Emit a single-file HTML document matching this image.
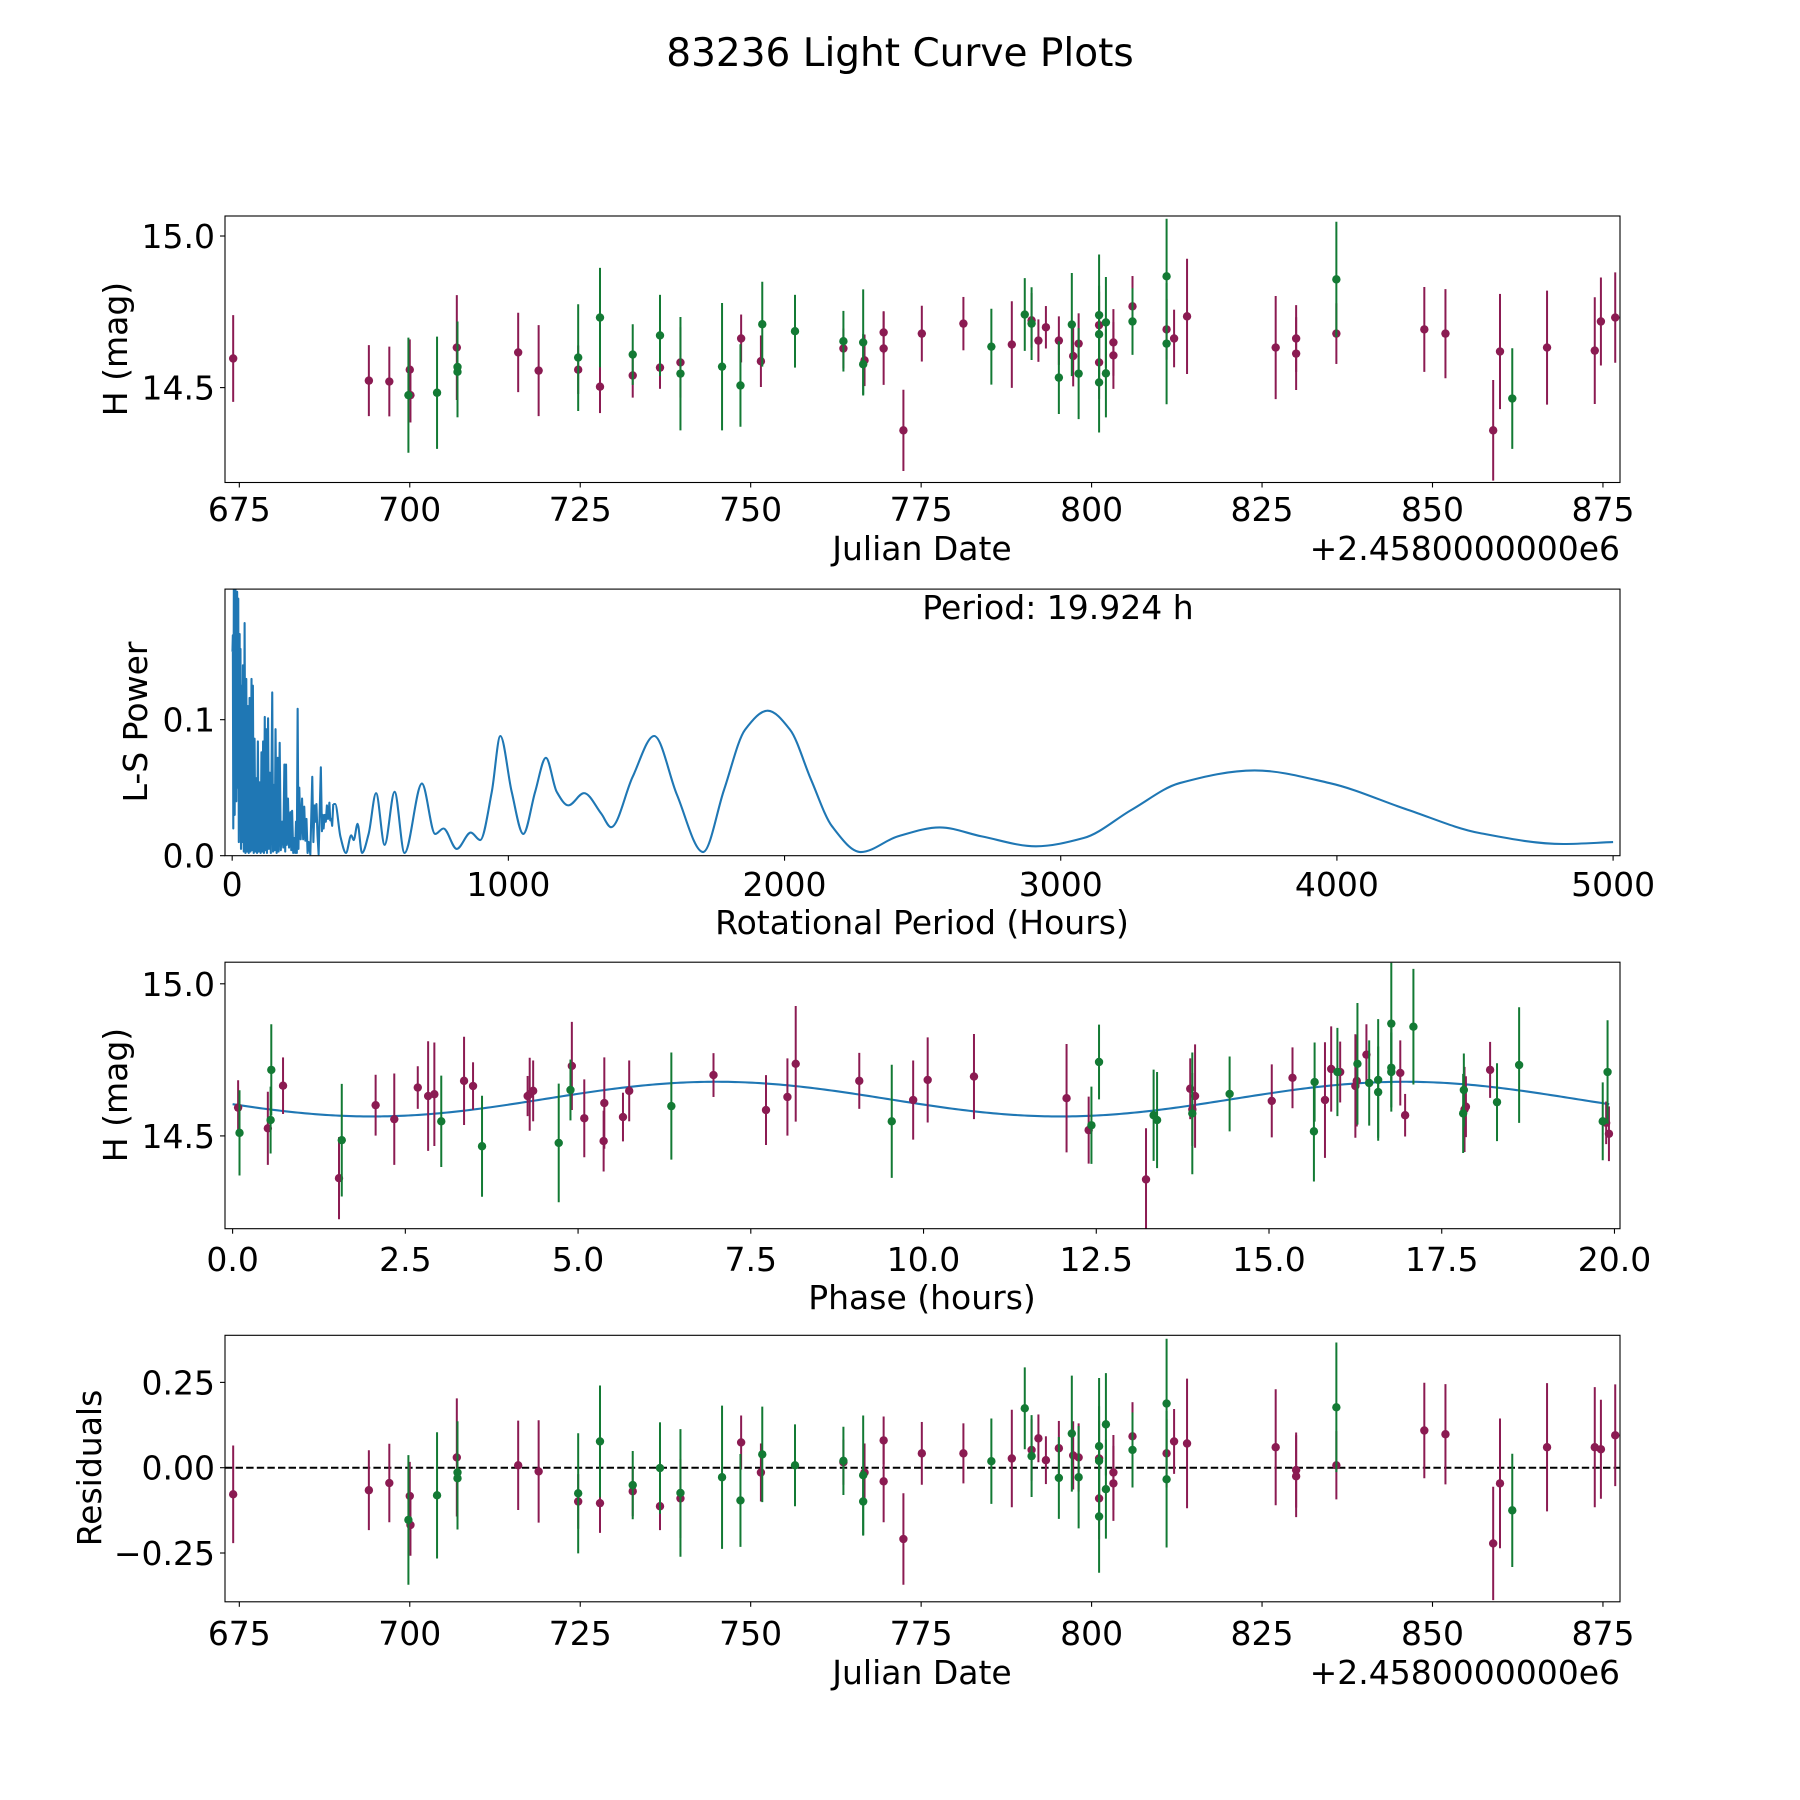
<!DOCTYPE html>
<html><head><meta charset="utf-8"><title>83236 Light Curve Plots</title>
<style>
html,body{margin:0;padding:0;background:#fff;}
svg{display:block;font-family:"DejaVu Sans","Liberation Sans",sans-serif;}
</style></head>
<body>
<svg id="fig" xmlns="http://www.w3.org/2000/svg" width="1800" height="1800" viewBox="0 0 1800 1800">
<rect x="0" y="0" width="1800" height="1800" fill="#fff"/>
<text x="900" y="66" font-size="39" text-anchor="middle">83236 Light Curve Plots</text>
<g id="ax1"></g>
<g id="ax2"></g>
<g id="ax3"></g>
<g id="ax4"></g>
<text x="922" y="560" font-size="33" text-anchor="middle">Julian Date</text>
<text x="1620" y="560" font-size="33" text-anchor="end">+2.4580000000e6</text>
<text transform="translate(127,349) rotate(-90)" font-size="33" text-anchor="middle">H (mag)</text>
<text x="922" y="934" font-size="33" text-anchor="middle">Rotational Period (Hours)</text>
<text transform="translate(147,722) rotate(-90)" font-size="33" text-anchor="middle">L-S Power</text>
<text x="1058" y="619" font-size="33" text-anchor="middle">Period: 19.924 h</text>
<text x="922" y="1309" font-size="33" text-anchor="middle">Phase (hours)</text>
<text transform="translate(127,1095) rotate(-90)" font-size="33" text-anchor="middle">H (mag)</text>
<text x="922" y="1684" font-size="33" text-anchor="middle">Julian Date</text>
<text x="1620" y="1684" font-size="33" text-anchor="end">+2.4580000000e6</text>
<text transform="translate(101,1468) rotate(-90)" font-size="33" text-anchor="middle">Residuals</text>
</svg>
<script>
// ---------- data ----------
const purpleDates = [674.1,694.0,697.0,700.0,700.1,706.9,715.9,718.9,724.7,727.9,732.7,736.7,739.7,748.6,751.5,763.6,766.7,769.5,769.5,772.4,775.1,781.2,788.3,791.2,792.2,793.3,795.2,797.3,798.1,801.1,801.1,803.2,803.2,806.0,811.0,812.1,814.0,827.0,830.0,830.0,835.9,848.8,851.9,858.9,859.9,866.8,873.8,874.7,876.8];
const purpleMags = [14.596,14.523,14.520,14.559,14.475,14.632,14.616,14.556,14.559,14.503,14.540,14.566,14.583,14.662,14.587,14.629,14.590,14.682,14.629,14.359,14.678,14.711,14.642,14.722,14.655,14.699,14.655,14.604,14.645,14.706,14.583,14.649,14.606,14.768,14.692,14.662,14.735,14.632,14.662,14.612,14.678,14.692,14.678,14.359,14.619,14.632,14.622,14.718,14.731];
const purpleErrs = [0.143,0.117,0.115,0.10,0.09,0.173,0.131,0.15,0.08,0.087,0.073,0.07,0.116,0.079,0.085,0.066,0.085,0.07,0.12,0.134,0.092,0.088,0.143,0.09,0.07,0.07,0.08,0.1,0.1,0.11,0.12,0.11,0.11,0.1,0.1,0.095,0.19,0.17,0.11,0.12,0.1,0.14,0.147,0.166,0.19,0.188,0.176,0.145,0.149];
const purpleResid = [-0.078,-0.066,-0.045,-0.083,-0.168,0.030,0.007,-0.011,-0.099,-0.104,-0.069,-0.113,-0.090,0.074,-0.014,0.016,-0.014,0.080,-0.040,-0.209,0.042,0.042,0.027,0.052,0.086,0.022,0.057,0.036,0.030,0.027,-0.090,-0.014,-0.046,0.092,0.042,0.077,0.071,0.060,-0.007,-0.025,0.007,0.109,0.098,-0.222,-0.046,0.060,0.060,0.054,0.095];

const greenDates = [699.8,704.0,707.0,707.0,724.7,727.9,732.7,736.7,739.7,745.8,748.5,751.7,756.5,763.6,766.5,766.5,785.3,790.2,791.2,795.2,797.1,798.1,801.1,801.1,801.1,802.1,802.1,806.0,811.0,811.0,835.9,861.7];
const greenMags = [14.475,14.483,14.568,14.552,14.599,14.731,14.609,14.672,14.546,14.569,14.507,14.709,14.686,14.653,14.649,14.577,14.635,14.741,14.711,14.533,14.708,14.546,14.739,14.676,14.517,14.715,14.547,14.718,14.867,14.645,14.857,14.464];
const greenErrs = [0.19,0.185,0.15,0.15,0.176,0.164,0.1,0.134,0.187,0.21,0.136,0.14,0.12,0.1,0.175,0.1,0.125,0.12,0.12,0.12,0.17,0.15,0.2,0.16,0.165,0.15,0.145,0.11,0.19,0.2,0.19,0.166];
const greenResid = [-0.153,-0.081,-0.014,-0.031,-0.075,0.077,-0.051,-0.001,-0.074,-0.028,-0.096,0.039,0.007,0.020,-0.022,-0.099,0.019,0.174,0.034,-0.030,0.100,-0.028,0.063,0.020,-0.143,0.127,-0.063,0.052,0.188,-0.034,0.177,-0.125];

const purplePhase = [0.08,0.51,0.73,1.54,2.07,2.34,2.68,2.83,2.92,3.35,3.48,4.27,4.30,4.35,4.91,5.09,5.37,5.38,5.65,5.74,6.96,7.72,8.03,8.15,9.07,9.85,10.06,10.73,12.07,12.39,13.22,13.86,13.89,13.93,15.04,15.34,15.81,15.90,16.03,16.25,16.27,16.41,16.90,16.97,17.83,17.85,18.20,19.88,19.92];
const purplePhaseMags = [14.593,14.525,14.665,14.361,14.601,14.555,14.659,14.631,14.637,14.681,14.664,14.631,14.637,14.648,14.730,14.558,14.483,14.608,14.562,14.648,14.700,14.585,14.628,14.737,14.681,14.618,14.684,14.695,14.624,14.519,14.357,14.655,14.587,14.631,14.615,14.691,14.618,14.720,14.710,14.664,14.681,14.767,14.707,14.568,14.587,14.596,14.717,14.543,14.507];
const purplePhaseErrs = [0.09,0.12,0.093,0.135,0.1,0.15,0.07,0.18,0.17,0.145,0.078,0.066,0.12,0.1,0.145,0.128,0.1,0.15,0.08,0.1,0.072,0.115,0.127,0.19,0.092,0.13,0.14,0.14,0.178,0.11,0.168,0.1,0.12,0.17,0.12,0.1,0.19,0.14,0.1,0.17,0.15,0.1,0.107,0.07,0.14,0.1,0.092,0.07,0.09];
const greenPhase = [0.10,0.55,0.56,1.58,3.02,3.61,4.72,4.89,6.35,9.54,12.43,12.54,13.33,13.38,13.89,14.43,15.65,15.66,15.99,16.28,16.45,16.58,16.58,16.77,16.77,16.77,17.09,17.81,17.82,18.30,18.62,19.83,19.90];
const greenPhaseMags = [14.510,14.552,14.717,14.486,14.548,14.466,14.477,14.651,14.598,14.548,14.535,14.743,14.568,14.552,14.574,14.638,14.515,14.677,14.710,14.737,14.674,14.684,14.644,14.869,14.724,14.710,14.859,14.574,14.651,14.611,14.733,14.548,14.710];
const greenPhaseErrs = [0.14,0.11,0.15,0.185,0.15,0.166,0.195,0.1,0.176,0.186,0.127,0.123,0.15,0.158,0.2,0.123,0.165,0.13,0.145,0.2,0.14,0.2,0.15,0.2,0.13,0.13,0.19,0.13,0.12,0.128,0.19,0.128,0.17];

// model fit: mean, amplitude, period (h), phase offset (rad)
const modelMean = 14.621;
const modelAmp = 0.057;
const modelPeriod = 19.924;
const modelOffset = -2.844;

// Lomb-Scargle periodogram (period in hours, power)
const lsPeriods = [1,2.4,4,6,9,12,15,18,20,22,24,27,28.5,30,32,34,36,39,42,45,48,51,54,57,60,63,66,70,72,75,78,81,84,87,90,93,96,100,103,106,109,112,115,118,120,123,126,130,133,136,140,145,148,151,154,157,161,165,168,172,176,181,185,189,192,195,198,202,206,211,214,217,221,225,228,231,234,237,240,243,248,253,257,261,265,269,273,277,283,290,294,298,301,305,309,313,321,325,328,331,335,339,343,347,352,355,359,362,366,
373,392,412,431,440,454,470,494,521,552,588,624,687,735,765,813,864,898,940,971,1012,1054,1097,1136,1175,1217,1274,1336,1372,1450,1528,1610,1705,1781,1857,1939,2020,2096,2172,2276,2410,2562,2714,2910,3083,3257,3431,3702,3973,4256,4516,4820,5000];
const lsPowers = [0.15,0.162,0.02,0.197,0.03,0.197,0.04,0.194,0.05,0.189,0.01,0.163,0.02,0.152,0.005,0.125,0.01,0.140,0.003,0.171,0.002,0.130,0.003,0.110,0.002,0.116,0.003,0.130,0.004,0.125,0.002,0.086,0.003,0.057,0.002,0.084,0.003,0.054,0.002,0.076,0.003,0.084,0.002,0.102,0.004,0.093,0.002,0.101,0.005,0.061,0.002,0.120,0.003,0.052,0.004,0.093,0.002,0.072,0.003,0.083,0.004,0.025,0.006,0.067,0.003,0.067,0.008,0.042,0.006,0.032,0.004,0.033,0.002,0.013,0.002,0.025,0.002,0.108,0.005,0.050,0.012,0.042,0.012,0.036,0.011,0.027,0.002,0.010,0.001,0.058,0.010,0.037,0.025,0.038,0.015,0.001,0.065,0.018,0.030,0.020,0.030,0.025,0.037,0.027,0.039,0.026,0.027,0.022,0.038,
0.038,0.014,0.002,0.015,0.0115,0.0235,0.002,0.016,0.046,0.008,0.047,0.002,0.053,0.016,0.020,0.005,0.017,0.0115,0.047,0.088,0.047,0.016,0.047,0.072,0.047,0.037,0.046,0.031,0.021,0.058,0.088,0.045,0.0027,0.0485,0.0926,0.1066,0.0926,0.0559,0.0216,0.0027,0.0142,0.0208,0.0142,0.0069,0.013,0.0338,0.0534,0.0627,0.0534,0.0338,0.0167,0.0086,0.010];
const lsSmoothFrom = 366;

// ticks
const jdTicks = [675,700,725,750,775,800,825,850,875];
const magTicks = [14.5,15.0];
const magTickLabels = ["14.5","15.0"];
const lsXTicks = [0,1000,2000,3000,4000,5000];
const lsYTicks = [0.0,0.1];
const lsYTickLabels = ["0.0","0.1"];
const phaseTicks = [0,2.5,5,7.5,10,12.5,15,17.5,20];
const phaseTickLabels = ["0.0","2.5","5.0","7.5","10.0","12.5","15.0","17.5","20.0"];
const residTicks = [-0.25,0,0.25];
const residTickLabels = ["\u22120.25","0.00","0.25"];

// ---------- rendering ----------
const NS = "http://www.w3.org/2000/svg";
const PURPLE = "#8b1b52", GREEN = "#137a34", BLUE = "#1f77b4";
const L = 225, R = 1620;
function mk(tag, attrs, parent){
  const e = document.createElementNS(NS, tag);
  for (const k in attrs) e.setAttribute(k, attrs[k]);
  parent.appendChild(e);
  return e;
}
function linScale(d0,d1,r0,r1){ return v => r0 + (v-d0)/(d1-d0)*(r1-r0); }

function setupAxes(g, id, top, bottom, xd, yd){
  const ax = {g, top, bottom, x: linScale(xd[0],xd[1],L,R), y: linScale(yd[0],yd[1],bottom,top)};
  const defs = mk('defs', {}, g);
  const cp = mk('clipPath', {id: 'clip-'+id}, defs);
  mk('rect', {x:L, y:top, width:R-L, height:bottom-top}, cp);
  ax.plot = mk('g', {'clip-path':'url(#clip-'+id+')'}, g);
  
  
  return ax;
}
function frame(ax){
  const r = mk('rect', {x:L, y:ax.top, width:R-L, height:ax.bottom-ax.top, fill:'none', stroke:'#000', 'stroke-width':1.1}, ax.g);
  
  
}
function xTicks(ax, vals, labels, labelY){
  vals.forEach((v,i)=>{
    const px = ax.x(v);
    const t = mk('line', {x1:px, x2:px, y1:ax.bottom, y2:ax.bottom+5, stroke:'#000', 'stroke-width':1.1}, ax.g);
    
    
    const tx = mk('text', {x:px, y:labelY, 'font-size':33, 'text-anchor':'middle'}, ax.g);
    
    
    tx.textContent = labels ? labels[i] : String(v);
  });
}
function yTicks(ax, vals, labels){
  vals.forEach((v,i)=>{
    const py = ax.y(v);
    const t = mk('line', {x1:L-5, x2:L, y1:py, y2:py, stroke:'#000', 'stroke-width':1.1}, ax.g);
    
    
    const tx = mk('text', {x:L-10, y:py+12, 'font-size':33, 'text-anchor':'end'}, ax.g);
    
    
    tx.textContent = labels[i];
  });
}
function errorPoints(ax, xs, ys, es, color, name){
  const grp = mk('g', {}, ax.plot);
  
  
  xs.forEach((xv,i)=>{
    const px = ax.x(xv), py = ax.y(ys[i]);
    const y1 = ax.y(ys[i]+es[i]), y2 = ax.y(ys[i]-es[i]);
    const ln = mk('line', {x1:px, x2:px, y1:y1, y2:y2, stroke:color, 'stroke-width':2}, grp);
    
    
    const c = mk('circle', {cx:px, cy:py, r:4.2, fill:color}, grp);
    
    
  });
}
// monotone cubic (Fritsch-Carlson) path through pixel points
function monotonePath(pts){
  const n = pts.length;
  const dx = [], sl = [];
  for (let i=0;i<n-1;i++){ dx.push(pts[i+1][0]-pts[i][0]); sl.push((pts[i+1][1]-pts[i][1])/dx[i]); }
  const m = new Array(n);
  m[0] = sl[0]; m[n-1] = sl[n-2];
  for (let i=1;i<n-1;i++){
    if (sl[i-1]*sl[i] <= 0) m[i] = 0;
    else {
      const w1 = 2*dx[i]+dx[i-1], w2 = dx[i]+2*dx[i-1];
      m[i] = (w1+w2)/(w1/sl[i-1]+w2/sl[i]);
    }
  }
  let d = 'M'+pts[0][0].toFixed(2)+','+pts[0][1].toFixed(2);
  for (let i=0;i<n-1;i++){
    const h = dx[i]/3;
    d += 'C'+(pts[i][0]+h).toFixed(2)+','+(pts[i][1]+m[i]*h).toFixed(2)+' '+(pts[i+1][0]-h).toFixed(2)+','+(pts[i+1][1]-m[i+1]*h).toFixed(2)+' '+pts[i+1][0].toFixed(2)+','+pts[i+1][1].toFixed(2);
  }
  return d;
}

// Axes 1: light curve
const a1 = setupAxes(document.getElementById('ax1'), 'light-curve', 216, 482.5, [672.9,877.5], [14.187,15.066]);
errorPoints(a1, purpleDates, purpleMags, purpleErrs, PURPLE, 'series-purple');
errorPoints(a1, greenDates, greenMags, greenErrs, GREEN, 'series-green');
frame(a1);
xTicks(a1, jdTicks, null, 521);
yTicks(a1, magTicks, magTickLabels);

// Axes 2: periodogram
const a2 = setupAxes(document.getElementById('ax2'), 'periodogram', 589.1, 855.7, [-26,5025], [0,0.196]);
{
  const rough = [], smooth = [];
  lsPeriods.forEach((p,i)=>{
    const pt = [a2.x(p), a2.y(lsPowers[i])];
    if (p <= lsSmoothFrom) rough.push(pt);
    if (p >= lsSmoothFrom) smooth.push(pt);
  });
  let d = 'M' + rough.map(p=>p[0].toFixed(2)+','+p[1].toFixed(2)).join('L');
  const p1 = mk('path', {d:d, fill:'none', stroke:BLUE, 'stroke-width':2.1, 'stroke-linejoin':'round'}, a2.plot);
  
  
  const p2 = mk('path', {d:monotonePath(smooth), fill:'none', stroke:BLUE, 'stroke-width':2.1}, a2.plot);
  
  
}
frame(a2);
xTicks(a2, lsXTicks, null, 896);
yTicks(a2, lsYTicks, lsYTickLabels);

// Axes 3: phase-folded
const a3 = setupAxes(document.getElementById('ax3'), 'phase', 962.2, 1228.7, [-0.11,20.08], [14.195,15.071]);
{
  const pts = [];
  for (let k=0;k<=400;k++){
    const ph = modelPeriod*k/400;
    const m = modelMean + modelAmp*Math.sin(2*Math.PI*2*ph/modelPeriod + modelOffset);
    pts.push(a3.x(ph).toFixed(2)+','+a3.y(m).toFixed(2));
  }
  const c = mk('path', {d:'M'+pts.join('L'), fill:'none', stroke:BLUE, 'stroke-width':2.1}, a3.plot);
  
  
}
errorPoints(a3, purplePhase, purplePhaseMags, purplePhaseErrs, PURPLE, 'phase-series-purple');
errorPoints(a3, greenPhase, greenPhaseMags, greenPhaseErrs, GREEN, 'phase-series-green');
frame(a3);
xTicks(a3, phaseTicks, phaseTickLabels, 1271);
yTicks(a3, magTicks, magTickLabels);

// Axes 4: residuals
const a4 = setupAxes(document.getElementById('ax4'), 'residuals', 1335.3, 1601.8, [672.9,877.5], [-0.393,0.388]);
{
  const z = a4.y(0);
  const dl = mk('line', {x1:L, x2:R, y1:z, y2:z, stroke:'#000', 'stroke-width':2, 'stroke-dasharray':'7.4 3.2'}, a4.plot);
  
  
}
errorPoints(a4, purpleDates, purpleResid, purpleErrs, PURPLE, 'residual-series-purple');
errorPoints(a4, greenDates, greenResid, greenErrs, GREEN, 'residual-series-green');
frame(a4);
xTicks(a4, jdTicks, null, 1645);
yTicks(a4, residTicks, residTickLabels);
</script>
</body></html>
